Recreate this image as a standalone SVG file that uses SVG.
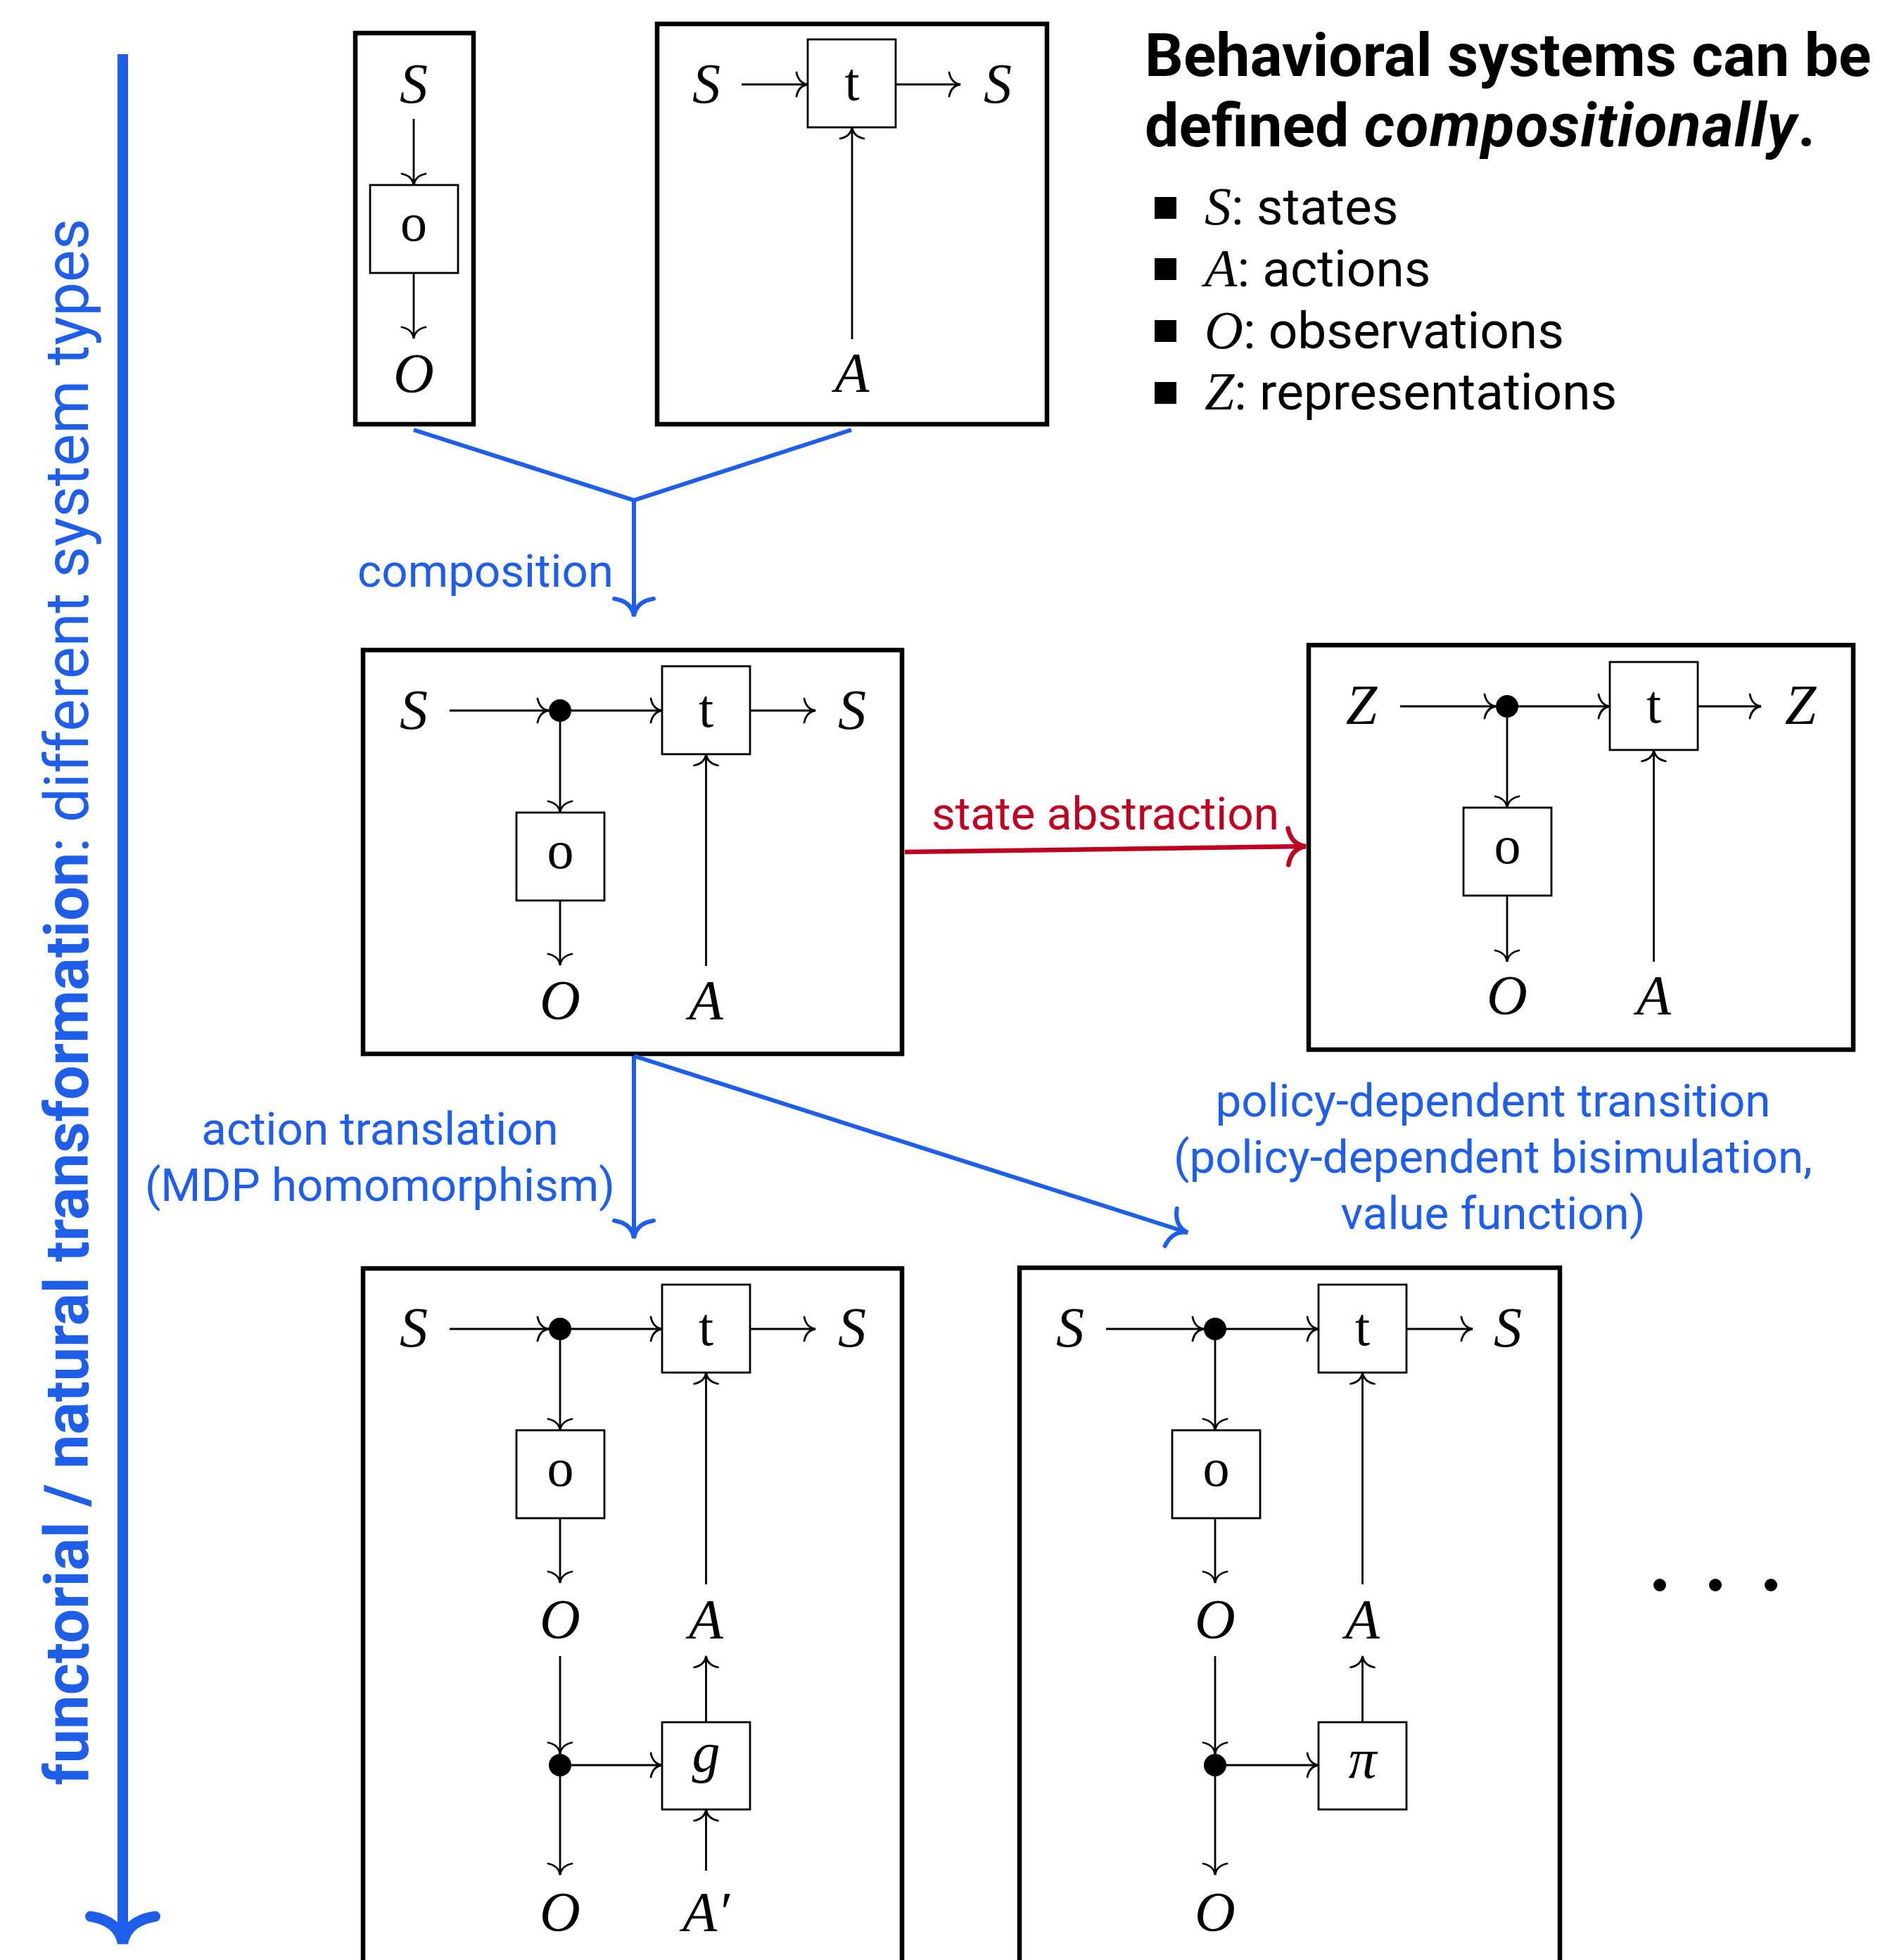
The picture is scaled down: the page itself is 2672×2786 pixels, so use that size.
<svg xmlns="http://www.w3.org/2000/svg" width="2672" height="2786" viewBox="0 0 2672 2786">
<style>
.frame{fill:none;stroke:#000;stroke-width:6.5}
.box{fill:#fff;stroke:#000;stroke-width:2.8}
.ln{fill:none;stroke:#000;stroke-width:2.8}
.arr{fill:none;stroke:#000;stroke-width:2.8;marker-end:url(#ah)}
.dot{fill:#000}
.m{font-family:"Liberation Serif","DejaVu Serif",serif;font-style:italic;font-size:80px;text-anchor:middle;fill:#000}
.r{font-family:"Liberation Serif","DejaVu Serif",serif;font-size:76px;text-anchor:middle;fill:#000}
.blue{font-family:Roboto,"Liberation Sans",sans-serif;font-size:65.5px;fill:#1E5EE8;text-anchor:middle}
.red{font-family:Roboto,"Liberation Sans",sans-serif;font-size:65.7px;fill:#BF0020;text-anchor:middle}
.bl{fill:none;stroke:#1E5EE8;stroke-width:6}
.sans{font-family:Roboto,"Liberation Sans",sans-serif;fill:#000}
</style>
<defs>
<marker id="ah" markerUnits="userSpaceOnUse" markerWidth="40" markerHeight="40" viewBox="-20 -20 40 40" refX="0" refY="0" orient="auto" overflow="visible">
<path d="M -16,-17 Q -13,-2 0,0 Q -13,2 -16,17" fill="none" stroke="#000" stroke-width="2.8" stroke-linecap="round"/>
</marker>
<marker id="ahb" markerUnits="userSpaceOnUse" markerWidth="60" markerHeight="60" viewBox="-30 -30 60 60" refX="0" refY="0" orient="auto" overflow="visible">
<path d="M -25,-28 Q -21,-3 0,0 Q -21,3 -25,28" fill="none" stroke="#1E5EE8" stroke-width="6" stroke-linecap="round"/>
</marker>
<marker id="ahr" markerUnits="userSpaceOnUse" markerWidth="60" markerHeight="60" viewBox="-30 -30 60 60" refX="0" refY="0" orient="auto" overflow="visible">
<path d="M -25,-26 Q -21,-3 0,0 Q -21,3 -25,26" fill="none" stroke="#BF0020" stroke-width="6.5" stroke-linecap="round"/>
</marker>
<marker id="ahB" markerUnits="userSpaceOnUse" markerWidth="120" markerHeight="120" viewBox="-60 -60 120 120" refX="0" refY="0" orient="auto" overflow="visible">
<path d="M -38,-46 Q -32,-6 0,0 Q -32,6 -38,46" fill="none" stroke="#1E5EE8" stroke-width="15" stroke-linecap="round"/>
</marker>
</defs>

<!-- vertical axis -->
<g id="axis">
<line x1="174.5" y1="77" x2="174.5" y2="2762" stroke="#1E5EE8" stroke-width="15" marker-end="url(#ahB)"/>
<text transform="rotate(-90 125 1424)" x="125" y="1424" font-family="Roboto,'Liberation Sans',sans-serif" font-size="86.7" fill="#1E5EE8" text-anchor="middle"><tspan font-weight="bold">functorial / natural transformation</tspan>: different system types</text>
</g>

<!-- title -->
<g id="title" class="sans">
<text x="1627" y="108" font-size="86" font-weight="bold" font-family="Roboto,'Liberation Sans',sans-serif">Behavioral systems can be</text>
<text x="1627" y="208" font-size="86" font-weight="bold" font-family="Roboto,'Liberation Sans',sans-serif">defined <tspan font-style="italic" letter-spacing="1.3">compositionally</tspan>.</text>
</g>

<g id="legend">
<rect x="1641" y="280" width="31" height="31"/>
<rect x="1641" y="367" width="31" height="31"/>
<rect x="1641" y="455" width="31" height="31"/>
<rect x="1641" y="543" width="31" height="31"/>
<text x="1712" y="319" font-family="Roboto,'Liberation Sans',sans-serif" font-size="73"><tspan font-family="'Liberation Serif',serif" font-style="italic" font-size="76">S</tspan>: states</text>
<text x="1712" y="407" font-family="Roboto,'Liberation Sans',sans-serif" font-size="73"><tspan font-family="'Liberation Serif',serif" font-style="italic" font-size="76">A</tspan>: actions</text>
<text x="1712" y="495" font-family="Roboto,'Liberation Sans',sans-serif" font-size="73"><tspan font-family="'Liberation Serif',serif" font-style="italic" font-size="76">O</tspan>: observations</text>
<text x="1712" y="582" font-family="Roboto,'Liberation Sans',sans-serif" font-size="73"><tspan font-family="'Liberation Serif',serif" font-style="italic" font-size="76">Z</tspan>: representations</text>
</g>

<!-- box 1: observation -->
<g id="sys-obs">
<rect class="frame" x="505" y="47" width="168" height="556"/>
<text class="m" x="588" y="146">S</text>
<line class="arr" x1="588" y1="169" x2="588" y2="263"/>
<rect class="box" x="526" y="263" width="125" height="125"/>
<text class="r" x="588" y="342">o</text>
<line class="arr" x1="588" y1="388" x2="588" y2="481"/>
<text class="m" x="588" y="558">O</text>
</g>

<!-- box 2: transition -->
<g id="sys-trans">
<rect class="frame" x="934" y="34" width="554" height="569"/>
<text class="m" x="1004" y="146">S</text>
<line class="arr" x1="1054" y1="120" x2="1148" y2="120"/>
<rect class="box" x="1148" y="56" width="125" height="125"/>
<text class="r" x="1211" y="142">t</text>
<line class="arr" x1="1273" y1="120" x2="1365" y2="120"/>
<text class="m" x="1418" y="146">S</text>
<line class="arr" x1="1211" y1="482" x2="1211" y2="181"/>
<text class="m" x="1211" y="557">A</text>
</g>

<!-- middle: composed system -->
<g id="sys-composed" transform="translate(516,924)">
<rect class="frame" x="0" y="0" width="766" height="574"/>
<text class="m" x="72" y="112">S</text>
<line class="arr" x1="123" y1="86" x2="264" y2="86"/>
<circle class="dot" cx="280" cy="86" r="16"/>
<line class="arr" x1="296" y1="86" x2="425" y2="86"/>
<rect class="box" x="425" y="23" width="125" height="125"/>
<text class="r" x="487.5" y="109">t</text>
<line class="arr" x1="550" y1="86" x2="643" y2="86"/>
<text class="m" x="695" y="112">S</text>
<line class="arr" x1="280" y1="102" x2="280" y2="231"/>
<rect class="box" x="218" y="231" width="125" height="125"/>
<text class="r" x="280.5" y="310">o</text>
<line class="arr" x1="280" y1="356" x2="280" y2="448"/>
<text class="m" x="280" y="525">O</text>
<line class="arr" x1="487.5" y1="449" x2="487.5" y2="148"/>
<text class="m" x="487.5" y="525">A</text>
</g>

<!-- right: representation system -->
<g id="sys-repr" transform="translate(1862,917)">
<rect class="frame" x="-2" y="0" width="774" height="575"/>
<text class="m" x="73" y="112">Z</text>
<line class="arr" x1="128" y1="87" x2="264" y2="87"/>
<circle class="dot" cx="280" cy="87" r="16"/>
<line class="arr" x1="296" y1="87" x2="426" y2="87"/>
<rect class="box" x="426" y="24" width="125" height="125"/>
<text class="r" x="488.5" y="110">t</text>
<line class="arr" x1="551" y1="87" x2="641" y2="87"/>
<text class="m" x="697" y="112">Z</text>
<line class="arr" x1="280" y1="103" x2="280" y2="231"/>
<rect class="box" x="218" y="231" width="125" height="125"/>
<text class="r" x="280.5" y="310">o</text>
<line class="arr" x1="280" y1="356" x2="280" y2="450"/>
<text class="m" x="280" y="525">O</text>
<line class="arr" x1="488.5" y1="450" x2="488.5" y2="149"/>
<text class="m" x="488.5" y="525">A</text>
</g>

<!-- bottom-left: action translation -->
<g id="sys-action" transform="translate(516,1803)">
<rect class="frame" x="0" y="0" width="766" height="1010"/>
<text class="m" x="72" y="111">S</text>
<line class="arr" x1="123" y1="86" x2="264" y2="86"/>
<circle class="dot" cx="280" cy="86" r="16"/>
<line class="arr" x1="296" y1="86" x2="425" y2="86"/>
<rect class="box" x="425" y="23" width="125" height="125"/>
<text class="r" x="487.5" y="109">t</text>
<line class="arr" x1="550" y1="86" x2="643" y2="86"/>
<text class="m" x="695" y="111">S</text>
<line class="arr" x1="280" y1="102" x2="280" y2="230"/>
<rect class="box" x="218" y="230" width="125" height="125"/>
<text class="r" x="280.5" y="309">o</text>
<line class="arr" x1="280" y1="355" x2="280" y2="447"/>
<text class="m" x="280" y="526">O</text>
<line class="arr" x1="487.5" y1="449" x2="487.5" y2="148"/>
<text class="m" x="487.5" y="526">A</text>
<line class="arr" x1="280" y1="551" x2="280" y2="690"/>
<circle class="dot" cx="280" cy="706" r="16"/>
<line class="arr" x1="296" y1="706" x2="425" y2="706"/>
<rect class="box" x="425" y="645" width="125" height="124"/>
<text class="m" x="487.5" y="715">g</text>
<line class="arr" x1="487.5" y1="645" x2="487.5" y2="551"/>
<line class="arr" x1="487.5" y1="856" x2="487.5" y2="769"/>
<line class="arr" x1="280" y1="722" x2="280" y2="862"/>
<text class="m" x="280" y="942">O</text>
<text class="m" x="487.5" y="942">A′</text>
</g>

<!-- bottom-right: policy-dependent -->
<g id="sys-policy" transform="translate(1449,1802)">
<rect class="frame" x="0" y="0" width="768" height="1010"/>
<text class="m" x="72" y="112">S</text>
<line class="arr" x1="123" y1="87" x2="262" y2="87"/>
<circle class="dot" cx="278" cy="87" r="16"/>
<line class="arr" x1="294" y1="87" x2="425" y2="87"/>
<rect class="box" x="425" y="24" width="125" height="125"/>
<text class="r" x="487.5" y="110">t</text>
<line class="arr" x1="550" y1="87" x2="644" y2="87"/>
<text class="m" x="694" y="112">S</text>
<line class="arr" x1="278" y1="103" x2="278" y2="231"/>
<rect class="box" x="217" y="231" width="125" height="125"/>
<text class="r" x="279.5" y="310">o</text>
<line class="arr" x1="278" y1="356" x2="278" y2="448"/>
<text class="m" x="278" y="527">O</text>
<line class="arr" x1="487.5" y1="450" x2="487.5" y2="149"/>
<text class="m" x="487.5" y="527">A</text>
<line class="arr" x1="278" y1="552" x2="278" y2="691"/>
<circle class="dot" cx="278" cy="707" r="16"/>
<line class="arr" x1="294" y1="707" x2="425" y2="707"/>
<rect class="box" x="425" y="646" width="125" height="124"/>
<text class="m" x="487.5" y="725">π</text>
<line class="arr" x1="487.5" y1="646" x2="487.5" y2="552"/>
<line class="arr" x1="278" y1="723" x2="278" y2="863"/>
<text class="m" x="278" y="943">O</text>
</g>

<g id="ellipsis">
<circle cx="2359" cy="2253" r="9"/>
<circle cx="2438" cy="2253" r="9"/>
<circle cx="2517" cy="2253" r="9"/>
</g>

<!-- connectors -->
<g id="connectors">
<polyline class="bl" points="588,611 901,711 1210,611"/>
<line class="bl" x1="901" y1="711" x2="901" y2="876" marker-end="url(#ahb)"/>
<text class="blue" x="690" y="834">composition</text>
<line stroke="#BF0020" stroke-width="6.5" x1="1286" y1="1211" x2="1856" y2="1203" marker-end="url(#ahr)"/>
<text class="red" x="1571" y="1179">state abstraction</text>
<line class="bl" x1="901" y1="1501" x2="901" y2="1760" marker-end="url(#ahb)"/>
<text class="blue" x="540" y="1627">action translation</text>
<text class="blue" x="540" y="1707">(MDP homomorphism)</text>
<line class="bl" x1="901" y1="1501" x2="1688" y2="1752" marker-end="url(#ahb)"/>
<text class="blue" x="2122" y="1587">policy-dependent transition</text>
<text class="blue" x="2122" y="1667">(policy-dependent bisimulation,</text>
<text class="blue" x="2122" y="1747">value function)</text>
</g>
</svg>
